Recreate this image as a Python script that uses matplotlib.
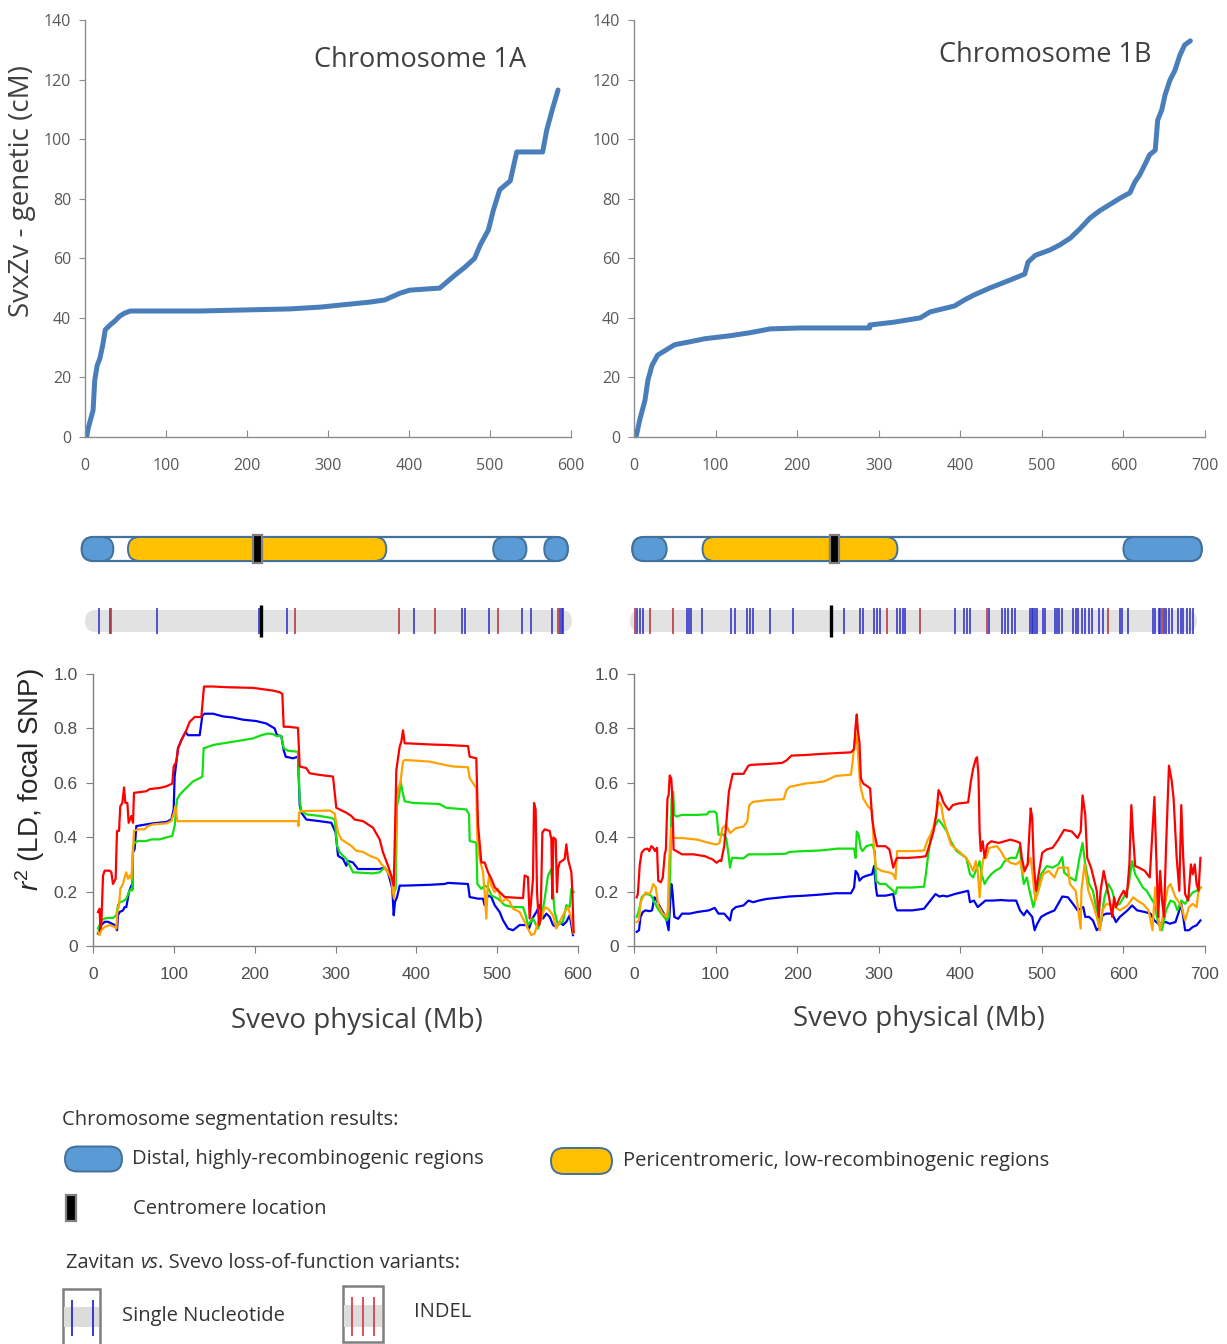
import numpy as np
import matplotlib
matplotlib.use('Agg')
import matplotlib.pyplot as plt
from matplotlib.patches import FancyBboxPatch, Rectangle

plt.rcParams['mathtext.fontset'] = 'custom'
plt.rcParams['mathtext.rm'] = 'Liberation Sans'
plt.rcParams['mathtext.it'] = 'Liberation Sans:italic'

W, H = 1227, 1344
XL_FONT = 'Open Sans'
R_FONT = 'Liberation Sans'
TXT = '#404040'

# ---- genetic vs physical map (Mb, cM) ----
map_1a_mb = [2, 4, 6, 10, 12, 15, 18.5, 22, 25, 31, 37, 43, 49, 56, 68, 142, 253, 290, 352, 370,
             389, 401, 438, 444, 457, 469, 481, 488, 498, 504, 512, 525, 533, 565, 570, 577, 584]
map_1a_cm = [0, 3, 5, 9, 19, 24, 26.5, 31, 36, 37.6, 39, 40.6, 41.6, 42.3, 42.3, 42.3, 43, 43.6, 45.3, 46,
             48.3, 49.3, 50, 51.4, 54.4, 57, 60, 64.5, 69.5, 76, 83, 86, 95.7, 95.7, 103, 110, 116.5]

map_1b_mb = [2.5, 7, 13.5, 17, 22, 29, 38, 50, 69, 87, 118, 142, 167, 203, 289, 289, 320, 351, 363, 393,
             405, 417, 436, 461, 479, 483, 492, 510, 522, 535, 547, 559, 571, 583, 596, 608, 614, 620, 626,
             632, 639, 642, 647, 651, 657, 663, 669, 675, 682]
map_1b_cm = [0, 5.7, 12.4, 19, 24, 27.5, 29, 31, 32, 33, 34, 35, 36.3, 36.6, 36.6, 37.6, 38.6, 40, 42, 44,
             46, 47.7, 50, 52.7, 54.7, 58.7, 61, 62.8, 64.5, 66.8, 70, 73.5, 76, 78, 80.2, 82, 85.6, 88, 91.3,
             94.7, 96.3, 106.4, 109.8, 114.8, 119.8, 123, 128, 131.6, 133]

# ---- chromosome segmentation (Mb) ----
chr1a_span = (-4, 596)
chr1a_distal = [(-4, 35), (504, 545), (567, 596)]
chr1a_pericen = (53, 372)
chr1a_cen = (207, 218)

chr1b_span = (-2, 696)
chr1b_distal = [(-2, 40), (600, 696)]
chr1b_pericen = (84, 323)
chr1b_cen = (240, 251)

# ---- loss-of-function variants (Mb) ----
lof_1a_span = (0, 601)
lof_1a_snp = [17.7, 31, 88.5, 215, 249, 406, 465, 469, 499, 540, 550, 577, 586, 589, 590]
lof_1a_indel = [31.7, 259, 388, 432, 510, 584]
lof_1a_cen = 217

lof_1b_span = (-5, 690)
lof_1b_snp = [4.1, 7.4, 11.1, 65.4, 67.7, 70.1, 83.3, 118.6, 124.3, 138.4, 141.7, 145.5, 166.7, 195,
              257.7, 277.5, 281.3, 294, 297.8, 301.1, 322.3, 325.6, 329.4, 332.7, 394, 404.8, 408.6,
              411.9, 435.5, 451, 454.4, 459.1, 462.9, 467.6, 485, 487.4, 489.7, 492.1, 494.5, 501.5,
              503.9, 515.7, 518, 521.3, 525.1, 538.3, 541.6, 544.9, 548.7, 553.4, 557.2, 561.9, 569.9,
              574.6, 595.9, 598.2, 606.2, 635.9, 639.2, 643, 645.3, 650, 652.4, 656.2, 659.5, 666.6,
              670.3, 673.6, 678.4, 681.7, 685.4]
lof_1b_indel = [1.7, 19.6, 47.9, 309.6, 350.6, 433.1, 580.8, 646.7]
lof_1b_cen = 241.2

# ---- LD (r2) with focal SNP, chromosome 1A ----
ld1a_red_mb = [6.2, 8.2, 9.1, 10.3, 12.4, 14.4, 20.6, 22.7, 24.7, 28, 29.7, 32.2, 33.8, 36.3, 38.4, 40, 42.5,
               44.1, 47.4, 49.5, 50.7, 66, 70.1, 82.5, 90.7, 98.1, 99.8, 103.1, 105.2, 109.3, 114.6, 119.6,
               125.8, 134, 137.3, 148.5, 169, 198, 222.7, 230.9, 234.2, 235.9, 241.2, 253.6, 255.7, 263.9,
               268, 280.4, 296.9, 301, 305.2, 313.4, 319.6, 323.7, 334, 340.2, 346.4, 354.6, 358.8, 365,
               369, 372, 373.2, 375.3, 379.4, 381.4, 383.5, 385.6, 389.7, 416.5, 437.1, 463.9, 466, 474.2,
               476.3, 480.4, 484.5, 488.7, 492.8, 496.9, 503.1, 509.3, 532, 534, 538.1, 540.2, 544.3, 545.6,
               547.6, 549.3, 551.8, 553.8, 555.9, 558.8, 565, 567, 568.2, 569.5, 572.4, 574, 575.3, 577.3,
               583.5, 585.6, 587.6, 591.8, 593, 594.6]
ld1a_red_r = [0.125, 0.137, 0.064, 0.077, 0.259, 0.277, 0.277, 0.271, 0.228, 0.247, 0.423, 0.423, 0.514,
              0.526, 0.583, 0.526, 0.526, 0.453, 0.478, 0.453, 0.563, 0.569, 0.577, 0.581, 0.587, 0.597,
              0.66, 0.678, 0.727, 0.757, 0.787, 0.824, 0.842, 0.842, 0.954, 0.954, 0.951, 0.949, 0.939,
              0.933, 0.927, 0.806, 0.806, 0.802, 0.66, 0.654, 0.635, 0.629, 0.623, 0.508, 0.502, 0.49,
              0.478, 0.465, 0.459, 0.447, 0.435, 0.392, 0.344, 0.295, 0.259, 0.222, 0.368, 0.648, 0.733,
              0.751, 0.793, 0.745, 0.745, 0.741, 0.739, 0.735, 0.696, 0.69, 0.447, 0.307, 0.307, 0.271,
              0.247, 0.216, 0.198, 0.18, 0.176, 0.259, 0.253, 0.101, 0.247, 0.526, 0.502, 0.198, 0.077,
              0.101, 0.417, 0.429, 0.423, 0.392, 0.174, 0.399, 0.392, 0.198, 0.283, 0.307, 0.32, 0.374,
              0.32, 0.271, 0.198, 0.052]

ld1a_blue_mb = [6.2, 8.2, 10.3, 14.4, 18.6, 22.7, 26.8, 29.7, 30.9, 33, 37.1, 39.2, 41.2, 44.5, 47.4, 48.7,
                49.5, 51.5, 53.6, 66, 74.2, 90.7, 96.9, 99.8, 101, 105.2, 109.3, 114.6, 117.5, 132, 135.3,
                138.1, 148.5, 160.8, 173.2, 185.6, 202.1, 214.4, 224.7, 227.6, 233, 235.9, 238.4, 247.4,
                253.6, 255.7, 257.7, 263.9, 280.4, 294.8, 300.2, 303.1, 309.3, 313.4, 315.5, 321.6, 327.8,
                354.6, 360.8, 364.9, 370.3, 372, 373.6, 376.1, 379.4, 385.6, 416.5, 435, 439.2, 463.9, 466,
                476.3, 482.5, 484.5, 488.7, 492.8, 496.9, 503.1, 507.2, 513.4, 519.6, 527.8, 536.1, 539.4,
                543.5, 548.5, 552.6, 556.7, 560.8, 565, 569.1, 573.2, 577.3, 581.4, 585.6, 589.7, 591.8,
                593.8]
ld1a_blue_r = [0.046, 0.058, 0.077, 0.089, 0.089, 0.083, 0.077, 0.058, 0.113, 0.125, 0.131, 0.143, 0.143,
               0.198, 0.222, 0.21, 0.344, 0.356, 0.441, 0.447, 0.451, 0.456, 0.465, 0.502, 0.623, 0.727,
               0.757, 0.787, 0.775, 0.775, 0.848, 0.854, 0.854, 0.844, 0.84, 0.832, 0.827, 0.818, 0.8,
               0.775, 0.772, 0.72, 0.696, 0.69, 0.696, 0.52, 0.49, 0.465, 0.459, 0.453, 0.417, 0.332, 0.32,
               0.295, 0.313, 0.307, 0.283, 0.283, 0.289, 0.271, 0.21, 0.113, 0.162, 0.18, 0.222, 0.222,
               0.225, 0.228, 0.232, 0.228, 0.18, 0.174, 0.174, 0.15, 0.186, 0.18, 0.15, 0.125, 0.095, 0.064,
               0.058, 0.077, 0.077, 0.064, 0.101, 0.125, 0.15, 0.101, 0.119, 0.107, 0.077, 0.07, 0.089,
               0.077, 0.089, 0.113, 0.077, 0.04]

ld1a_green_mb = [6.2, 8.2, 10.3, 14.4, 18.6, 24.7, 28.9, 30.9, 33, 37.1, 41.2, 44.5, 47.4, 48.7, 49.5, 51.5,
                 55.7, 66, 72.2, 82.5, 90.7, 98.1, 101, 103.9, 107.2, 113.4, 117.5, 123.7, 132, 135.3,
                 136.9, 140.2, 148.5, 160.8, 177.3, 189.7, 197.9, 208.2, 216.5, 222.7, 226.8, 233, 235.9,
                 241.2, 253.6, 255.7, 257.7, 263.9, 280.4, 294.8, 299, 301.9, 305.2, 313.4, 321.6, 346.4,
                 354.6, 360.8, 364.9, 369.1, 372, 374.4, 376.1, 378.6, 380.6, 382.7, 385.6, 395.9, 428.9,
                 437.1, 461.9, 465.2, 466, 474.2, 475.5, 480.4, 484.5, 488.7, 492.8, 501, 509.3, 519.6, 532,
                 535.3, 538.1, 544.3, 550.5, 554.6, 558.8, 562.9, 567, 569.1, 571.1, 575.3, 581.4, 585.6,
                 589.7, 591.8, 594.6]
ld1a_green_r = [0.064, 0.077, 0.095, 0.101, 0.103, 0.103, 0.113, 0.15, 0.162, 0.164, 0.174, 0.198, 0.21,
                0.204, 0.368, 0.38, 0.386, 0.386, 0.392, 0.392, 0.399, 0.405, 0.441, 0.538, 0.556, 0.575,
                0.587, 0.605, 0.617, 0.623, 0.727, 0.73, 0.739, 0.745, 0.753, 0.759, 0.763, 0.775, 0.781,
                0.779, 0.772, 0.772, 0.727, 0.718, 0.714, 0.538, 0.496, 0.484, 0.478, 0.471, 0.465, 0.368,
                0.344, 0.32, 0.271, 0.267, 0.271, 0.289, 0.271, 0.247, 0.198, 0.21, 0.514, 0.55, 0.605,
                0.569, 0.532, 0.526, 0.522, 0.508, 0.502, 0.484, 0.386, 0.38, 0.228, 0.21, 0.222, 0.216,
                0.186, 0.174, 0.15, 0.143, 0.143, 0.113, 0.077, 0.101, 0.064, 0.101, 0.174, 0.259, 0.283,
                0.198, 0.125, 0.077, 0.089, 0.15, 0.143, 0.21, 0.198]

ld1a_orange_mb = [6.2, 8.2, 10.3, 14.4, 20.6, 26.8, 28.9, 30.1, 32.2, 33.8, 37.1, 39.2, 41.2, 43.3, 45.4,
                  47.4, 49.5, 50.7, 55.7, 63.9, 68, 74.2, 90.7, 96.9, 100.2, 101.9, 103.1, 104.3, 253.6,
                  254.4, 254.8, 257.7, 292.8, 299, 300.2, 303.1, 307.2, 313.4, 319.6, 325.8, 334, 342.3,
                  352.6, 356.7, 360.8, 364.9, 369.1, 371.1, 372.4, 373.6, 375.3, 377.3, 380.2, 383.5, 385.6,
                  416.5, 435, 445.4, 463.9, 466, 474.2, 475.5, 478.4, 482.5, 484.5, 486.6, 487.8, 489.9,
                  492.8, 496.9, 501, 505.2, 511.3, 515.5, 519.6, 527.8, 534, 538.1, 542.3, 546.4, 550.5,
                  554.6, 558.8, 562.9, 569.1, 573.2, 577.3, 583.5, 587.6, 591.8, 594.6]
ld1a_orange_r = [0.052, 0.04, 0.058, 0.07, 0.077, 0.07, 0.064, 0.125, 0.15, 0.21, 0.228, 0.253, 0.271,
                 0.247, 0.259, 0.247, 0.35, 0.423, 0.429, 0.429, 0.441, 0.447, 0.451, 0.459, 0.49, 0.514,
                 0.49, 0.459, 0.459, 0.441, 0.49, 0.496, 0.498, 0.487, 0.465, 0.417, 0.392, 0.38, 0.368,
                 0.35, 0.346, 0.332, 0.32, 0.301, 0.289, 0.271, 0.247, 0.198, 0.174, 0.259, 0.526, 0.575,
                 0.599, 0.678, 0.684, 0.678, 0.666, 0.66, 0.657, 0.617, 0.581, 0.392, 0.32, 0.271, 0.198,
                 0.101, 0.198, 0.259, 0.222, 0.198, 0.21, 0.162, 0.174, 0.162, 0.137, 0.125, 0.089, 0.064,
                 0.04, 0.046, 0.089, 0.101, 0.143, 0.137, 0.113, 0.064, 0.089, 0.125, 0.143, 0.101, 0.046]

# ---- LD (r2) with focal SNP, chromosome 1B ----
ld1b_red_mb = [3.3, 4.7, 7.1, 9.4, 12.7, 16.5, 18.8, 21.2, 23.5, 25.9, 28.2, 29.7, 33, 35.3, 37.7, 39.1, 41,
               42.4, 43.8, 45.7, 47.1, 48.5, 51.8, 58.9, 73, 87.1, 96.5, 101.2, 105, 106.9, 110.6, 113,
               116.3, 121, 134.2, 140.3, 143.6, 162.4, 181.3, 186.9, 193, 209.5, 228.3, 247.2, 266, 269.8,
               271.7, 273.1, 274.5, 276.4, 278.2, 281.1, 287.2, 289.5, 291.9, 294.3, 298, 308.4, 313.1,
               317.8, 320.6, 322.5, 336.6, 350.8, 357.8, 362.5, 367.2, 370.5, 373.4, 376.6, 379, 382.8,
               386.1, 390.8, 397.8, 409.6, 412.9, 415.7, 419, 420.5, 422.3, 423.7, 425.1, 427.5, 429.8,
               433.1, 437.9, 447.3, 454.3, 461.4, 468.5, 473.2, 475.5, 478.8, 482.6, 486.3, 488.2, 490.1,
               492.9, 496.7, 500.5, 506.1, 513.2, 520.2, 527.3, 536.7, 543.8, 547.6, 549.9, 553.2, 555.6,
               560.3, 567.3, 569.7, 572, 575.8, 579.1, 582.4, 586.2, 588.5, 590.9, 595.6, 600.3, 604, 607.3,
               609.7, 612, 614.4, 619.1, 626.2, 632.3, 635.6, 638, 640.3, 642.7, 645, 647.4, 649.7, 652.1,
               655.8, 659.1, 661.5, 665.3, 668.5, 670.9, 673.3, 675.6, 679.4, 682.7, 685, 687.4, 689.7,
               692.1, 694.4]
ld1b_red_r = [0.179, 0.191, 0.3, 0.343, 0.355, 0.358, 0.349, 0.367, 0.361, 0.349, 0.361, 0.24, 0.234, 0.252,
              0.337, 0.355, 0.542, 0.554, 0.627, 0.615, 0.542, 0.355, 0.349, 0.337, 0.337, 0.33, 0.318,
              0.306, 0.315, 0.312, 0.367, 0.446, 0.567, 0.633, 0.633, 0.663, 0.666, 0.669, 0.673, 0.682,
              0.7, 0.702, 0.706, 0.709, 0.712, 0.724, 0.809, 0.851, 0.791, 0.748, 0.615, 0.597, 0.585,
              0.579, 0.47, 0.421, 0.367, 0.367, 0.355, 0.288, 0.312, 0.324, 0.324, 0.327, 0.33, 0.373,
              0.421, 0.482, 0.573, 0.554, 0.53, 0.512, 0.5, 0.518, 0.524, 0.528, 0.603, 0.651, 0.688,
              0.694, 0.627, 0.421, 0.349, 0.385, 0.324, 0.373, 0.385, 0.379, 0.385, 0.391, 0.385, 0.379,
              0.324, 0.276, 0.3, 0.506, 0.47, 0.3, 0.203, 0.276, 0.343, 0.355, 0.361, 0.391, 0.427, 0.421,
              0.397, 0.421, 0.554, 0.482, 0.324, 0.288, 0.203, 0.107, 0.203, 0.276, 0.228, 0.179, 0.107,
              0.179, 0.143, 0.179, 0.203, 0.179, 0.3, 0.518, 0.397, 0.294, 0.288, 0.276, 0.252, 0.421,
              0.548, 0.324, 0.107, 0.276, 0.167, 0.107, 0.349, 0.663, 0.609, 0.542, 0.324, 0.203, 0.518,
              0.324, 0.191, 0.167, 0.3, 0.264, 0.3, 0.228, 0.203, 0.324]

ld1b_orange_mb = [3.3, 6.1, 8, 10.8, 14.1, 18.8, 21.2, 23.5, 26.8, 29.7, 35.3, 40, 41.4, 43.3, 45.7, 47.1,
                  49.4, 58.9, 77.7, 91.8, 101.2, 105, 108.3, 113, 117.7, 120.1, 124.8, 134.2, 138.9, 141.2,
                  146, 162.4, 183.6, 186.9, 190.7, 209.5, 218.9, 233.1, 247.2, 266, 268.4, 270.7, 272.6,
                  274.5, 277.3, 281.1, 287.2, 291.9, 294.3, 296.6, 303.7, 313.1, 317.8, 320.6, 322.5, 341.3,
                  355.5, 360.2, 365.8, 370.5, 373.4, 376.6, 379, 383.7, 388.4, 397.8, 407.3, 411.9, 415.7,
                  419, 421.4, 423.7, 426.1, 428.4, 431.7, 435.5, 444.9, 449.6, 454.3, 461.4, 468.5, 473.2,
                  476.9, 480.2, 486.3, 488.2, 492, 495.8, 501.4, 508.5, 515.5, 520.2, 532, 534.4, 541.4,
                  547.6, 548.5, 552.3, 557, 562.6, 567.3, 571.1, 574.4, 579.1, 586.2, 595.6, 605, 612, 616.8,
                  623.8, 630.9, 635.6, 638.9, 641.7, 645, 649.7, 654.4, 657.7, 663.8, 670.9, 675.6, 680.3,
                  685, 689.7, 692.1, 694.4]
ld1b_orange_r = [0.088, 0.094, 0.161, 0.179, 0.197, 0.191, 0.203, 0.228, 0.215, 0.149, 0.119, 0.107, 0.131,
                 0.324, 0.433, 0.397, 0.397, 0.397, 0.391, 0.379, 0.373, 0.379, 0.433, 0.446, 0.415, 0.421,
                 0.433, 0.439, 0.458, 0.518, 0.53, 0.536, 0.54, 0.573, 0.585, 0.597, 0.6, 0.605, 0.625, 0.63,
                 0.688, 0.76, 0.778, 0.712, 0.591, 0.542, 0.512, 0.5, 0.349, 0.288, 0.276, 0.27, 0.264,
                 0.246, 0.349, 0.349, 0.351, 0.391, 0.421, 0.482, 0.53, 0.518, 0.47, 0.421, 0.373, 0.349,
                 0.324, 0.3, 0.276, 0.312, 0.276, 0.179, 0.276, 0.324, 0.324, 0.361, 0.367, 0.349, 0.324,
                 0.306, 0.3, 0.312, 0.264, 0.288, 0.324, 0.276, 0.167, 0.203, 0.264, 0.276, 0.252, 0.288,
                 0.288, 0.228, 0.203, 0.064, 0.203, 0.3, 0.203, 0.155, 0.107, 0.058, 0.131, 0.155, 0.149,
                 0.131, 0.149, 0.179, 0.167, 0.155, 0.131, 0.058, 0.215, 0.131, 0.058, 0.131, 0.215, 0.228,
                 0.179, 0.149, 0.094, 0.143, 0.155, 0.143, 0.203, 0.215]

ld1b_green_mb = [3.3, 6.1, 9.4, 12.7, 16.5, 21.2, 25.9, 30.6, 35.3, 40, 42.4, 44.7, 46.1, 48, 49.4, 51.8,
                 58.9, 77.7, 89.5, 91.8, 98.9, 101.2, 103.6, 108.3, 113, 115.3, 117.7, 120.1, 122.4, 134.2,
                 140.3, 162.4, 186, 190.7, 209.5, 228.3, 249.5, 269.8, 271.7, 273.1, 275.4, 277.8, 280.1,
                 284.8, 291.9, 295.2, 296.6, 301.3, 308.4, 313.1, 317.8, 320.6, 322.5, 341.3, 355.5, 357.8,
                 360.2, 364.9, 369.6, 373.4, 376.6, 383.7, 388.4, 395.5, 407.3, 411.9, 415.7, 419, 423.7,
                 426.1, 429.8, 433.1, 437.9, 442.6, 449.6, 454.3, 461.4, 468.5, 473.2, 475.5, 477.9, 481.6,
                 484.9, 489.6, 494.4, 499.1, 506.1, 513.2, 520.2, 525.1, 527.3, 534.4, 541.4, 546.1, 549.9,
                 553.2, 557.9, 562.6, 567.3, 572, 576.8, 581.5, 586.2, 590.9, 595.6, 600.3, 605.9, 610.6,
                 614.4, 619.1, 623.8, 628.5, 633.2, 638, 642.7, 647.4, 652.1, 657.7, 662.4, 666.2, 670.9,
                 675.6, 680.3, 685, 689.7, 695]
ld1b_green_r = [0.107, 0.131, 0.179, 0.189, 0.191, 0.185, 0.155, 0.131, 0.113, 0.094, 0.107, 0.324, 0.542,
                0.567, 0.482, 0.476, 0.482, 0.482, 0.484, 0.494, 0.494, 0.488, 0.409, 0.412, 0.397, 0.349,
                0.288, 0.324, 0.324, 0.322, 0.337, 0.337, 0.339, 0.346, 0.349, 0.351, 0.358, 0.358, 0.324,
                0.421, 0.409, 0.361, 0.349, 0.367, 0.373, 0.349, 0.24, 0.228, 0.228, 0.215, 0.203, 0.191,
                0.215, 0.215, 0.218, 0.264, 0.324, 0.421, 0.446, 0.464, 0.452, 0.421, 0.385, 0.349, 0.324,
                0.264, 0.252, 0.276, 0.312, 0.264, 0.228, 0.246, 0.264, 0.276, 0.288, 0.312, 0.324, 0.324,
                0.367, 0.276, 0.228, 0.252, 0.203, 0.143, 0.203, 0.264, 0.294, 0.288, 0.3, 0.327, 0.27,
                0.252, 0.24, 0.324, 0.379, 0.3, 0.228, 0.203, 0.131, 0.082, 0.179, 0.228, 0.203, 0.149,
                0.155, 0.179, 0.215, 0.312, 0.264, 0.24, 0.215, 0.203, 0.179, 0.155, 0.082, 0.058, 0.131,
                0.167, 0.161, 0.131, 0.167, 0.155, 0.179, 0.197, 0.203, 0.215]

ld1b_blue_mb = [3.3, 6.1, 8, 10.8, 14.1, 18.8, 22.1, 25, 26.8, 29.7, 33, 37.7, 40, 42.4, 43.8, 45.7, 47.1,
                49.4, 54.1, 58.9, 68.3, 77.7, 91.8, 98.9, 103.6, 110.6, 117.7, 120.1, 124.8, 134.2, 140.3,
                146, 153, 162.4, 181.3, 190.7, 209.5, 228.3, 247.2, 266, 269.8, 271.7, 274.5, 276.4, 280.1,
                284.8, 291.9, 294.3, 296.6, 298, 308.4, 317.8, 320.6, 322.5, 341.3, 355.5, 360.2, 369.6,
                374.3, 379, 383.7, 393.1, 409.6, 411.9, 416.7, 421.4, 426.1, 430.8, 440.2, 449.6, 459,
                468.5, 473.2, 477.9, 481.6, 484.9, 488.2, 491.1, 494.4, 499.1, 506.1, 515.5, 525.1, 532,
                538.1, 543.8, 550.8, 553.2, 557.9, 562.6, 567.3, 571.1, 574.4, 579.1, 586.2, 590.9, 595.6,
                600.3, 605, 610.6, 616.8, 626.2, 633.2, 638, 642.7, 647.4, 652.1, 656.8, 663.8, 668.5,
                670.9, 673.3, 675.6, 680.3, 685, 689.7, 694.4]
ld1b_blue_r = [0.052, 0.058, 0.107, 0.125, 0.131, 0.128, 0.131, 0.179, 0.173, 0.155, 0.137, 0.113, 0.094,
               0.058, 0.131, 0.228, 0.203, 0.107, 0.1, 0.119, 0.119, 0.125, 0.131, 0.14, 0.119, 0.119, 0.094,
               0.131, 0.143, 0.149, 0.167, 0.161, 0.167, 0.173, 0.179, 0.182, 0.185, 0.189, 0.194, 0.194,
               0.215, 0.276, 0.264, 0.24, 0.252, 0.258, 0.264, 0.294, 0.215, 0.185, 0.185, 0.191, 0.143,
               0.131, 0.131, 0.137, 0.155, 0.191, 0.182, 0.185, 0.182, 0.191, 0.203, 0.161, 0.167, 0.143,
               0.155, 0.167, 0.167, 0.169, 0.167, 0.167, 0.131, 0.113, 0.131, 0.119, 0.107, 0.058, 0.082,
               0.107, 0.119, 0.131, 0.182, 0.179, 0.155, 0.131, 0.143, 0.107, 0.107, 0.094, 0.058, 0.07,
               0.113, 0.119, 0.119, 0.088, 0.107, 0.119, 0.131, 0.149, 0.131, 0.125, 0.119, 0.094, 0.082,
               0.085, 0.088, 0.082, 0.088, 0.131, 0.155, 0.107, 0.058, 0.058, 0.07, 0.076, 0.094]

LD_COLORS = {'blue': '#0000f0', 'green': '#10e010', 'orange': '#ffa200', 'red': '#ff0000'}

fig = plt.figure(figsize=(W / 100, H / 100), dpi=100)
fig.patch.set_facecolor('white')


def px_axes(x0, y0, x1, y1):
    # place an axes by its pixel box (y measured from the top)
    return fig.add_axes([x0 / W, 1 - y1 / H, (x1 - x0) / W, (y1 - y0) / H])


def map_panel(x0, x1, xmax, mb, cm, title, title_xy):
    ax = px_axes(x0, 20, x1, 437)
    ax.plot(mb, cm, color='#4a7ebb', lw=3.6, solid_capstyle='round', solid_joinstyle='round')
    ax.set_xlim(0, xmax)
    ax.set_ylim(0, 140)
    ax.set_xticks(range(0, xmax + 1, 100))
    ax.set_yticks(range(0, 141, 20))
    for s in ['top', 'right']:
        ax.spines[s].set_visible(False)
    for s in ['left', 'bottom']:
        ax.spines[s].set_color('#8c8c8c')
        ax.spines[s].set_linewidth(1.0)
    ax.tick_params(axis='x', direction='in', length=5, pad=15, color='#8c8c8c')
    ax.tick_params(axis='y', direction='out', length=4, pad=6, color='#8c8c8c')
    for lab in ax.get_xticklabels() + ax.get_yticklabels():
        lab.set_fontfamily(XL_FONT)
        lab.set_fontsize(11.5)
        lab.set_color('#595959')
    fig.text(title_xy[0] / W, 1 - title_xy[1] / H, title, ha='center', va='center',
             fontsize=19.5, family=XL_FONT, color=TXT)
    return ax


def ld_panel(x0, x1, xmax, series):
    ax = px_axes(x0, 674, x1, 946)
    for name in ['blue', 'green', 'orange', 'red']:
        mb, r = series[name]
        ax.plot(mb, r, color=LD_COLORS[name], lw=1.6)
    ax.set_xlim(0, xmax)
    ax.set_ylim(0, 1.0)
    ax.set_xticks(range(0, xmax + 1, 100))
    ax.set_yticks([0, 0.2, 0.4, 0.6, 0.8, 1.0])
    ax.set_yticklabels(['0', '0.2', '0.4', '0.6', '0.8', '1.0'])
    for s in ['top', 'right']:
        ax.spines[s].set_visible(False)
    for s in ['left', 'bottom']:
        ax.spines[s].set_color('#7f7f7f')
        ax.spines[s].set_linewidth(1.0)
    ax.tick_params(direction='out', length=5, color='#7f7f7f')
    ax.tick_params(axis='x', pad=10)
    ax.tick_params(axis='y', pad=6)
    for lab in ax.get_xticklabels() + ax.get_yticklabels():
        lab.set_fontfamily(R_FONT)
        lab.set_fontsize(12.5)
        lab.set_color('#4d4d4d')
    return ax


def rounded(ax, x0, x1, yc, h, fc, ec, lw, z=2):
    w = x1 - x0
    rs = min(w, h) / 2
    p = FancyBboxPatch((x0, yc - h / 2), w, h, boxstyle='round,pad=0,rounding_size=%f' % rs,
                       fc=fc, ec=ec, lw=lw, zorder=z, clip_on=False, mutation_aspect=1)
    ax.add_patch(p)


def chrom_panel(x0, x1, xmax, span, distal, pericen, cen, lspan, snp, indel, lcen):
    ax = px_axes(x0, 525, x1, 645)
    ppm = (x1 - x0) / xmax
    ax.set_xlim(0, xmax)
    ax.set_ylim(0, 120 / ppm)
    ax.axis('off')

    def u(px):
        return px / ppm

    yc, h = u(96), u(24)
    edge = '#41719c'
    rounded(ax, span[0], span[1], yc, h, 'white', edge, 1.6, 2)
    for a, b in distal:
        rounded(ax, a, b, yc, h, '#5b9bd5', edge, 1.4, 3)
    rounded(ax, pericen[0], pericen[1], yc, h, '#ffc000', edge, 1.4, 3)
    ax.add_patch(Rectangle((cen[0], yc - u(14)), cen[1] - cen[0], u(28), fc='black', ec='#808080',
                           lw=1.6, zorder=4, clip_on=False))

    yt = u(24)
    rounded(ax, lspan[0], lspan[1], yt, u(22), '#e2e2e2', 'none', 0, 2)
    ax.vlines(snp, yt - u(13), yt + u(13), color='#2a2ac8', lw=1.3, alpha=0.85, zorder=3)
    ax.vlines(indel, yt - u(13), yt + u(13), color='#b8383a', lw=1.3, alpha=0.9, zorder=3)
    ax.vlines([lcen], yt - u(16), yt + u(16), color='black', lw=2.4, zorder=4)
    return ax


map_panel(85, 571, 600, map_1a_mb, map_1a_cm, 'Chromosome 1A', (420, 60))
map_panel(634, 1205, 700, map_1b_mb, map_1b_cm, 'Chromosome 1B', (1045, 55))

chrom_panel(85, 571, 600, chr1a_span, chr1a_distal, chr1a_pericen, chr1a_cen,
            lof_1a_span, lof_1a_snp, lof_1a_indel, lof_1a_cen)
chrom_panel(634, 1205, 700, chr1b_span, chr1b_distal, chr1b_pericen, chr1b_cen,
            lof_1b_span, lof_1b_snp, lof_1b_indel, lof_1b_cen)

ld_panel(93, 578, 600, {'red': (ld1a_red_mb, ld1a_red_r), 'blue': (ld1a_blue_mb, ld1a_blue_r),
                        'green': (ld1a_green_mb, ld1a_green_r), 'orange': (ld1a_orange_mb, ld1a_orange_r)})
ld_panel(634, 1205, 700, {'red': (ld1b_red_mb, ld1b_red_r), 'blue': (ld1b_blue_mb, ld1b_blue_r),
                          'green': (ld1b_green_mb, ld1b_green_r), 'orange': (ld1b_orange_mb, ld1b_orange_r)})

# axis titles
fig.text(22 / W, 1 - 191 / H, 'SvxZv - genetic (cM)', rotation=90, ha='center', va='center',
         fontsize=20, family=XL_FONT, color=TXT)
fig.text(30 / W, 1 - 780 / H, r'$\mathit{r}^2$ (LD, focal SNP)', rotation=90, ha='center', va='center',
         fontsize=20, family=R_FONT, color='#262626')
fig.text(357 / W, 1 - 1021 / H, 'Svevo physical (Mb)', ha='center', va='center',
         fontsize=20, family=XL_FONT, color=TXT)
fig.text(919 / W, 1 - 1019 / H, 'Svevo physical (Mb)', ha='center', va='center',
         fontsize=20, family=XL_FONT, color=TXT)

# legend drawn in pixel coordinates
lg = fig.add_axes([0, 0, 1, 1], zorder=-1)
lg.set_xlim(0, W)
lg.set_ylim(H, 0)
lg.axis('off')
LG = dict(fontsize=14.5, family=XL_FONT, color='#333333', va='center')

lg.text(62, 1120, 'Chromosome segmentation results:', **LG)
rounded(lg, 65, 122, 1159, 25, '#5b9bd5', '#41719c', 1.4)
lg.text(132, 1159, 'Distal, highly-recombinogenic regions', **LG)
rounded(lg, 551, 612, 1161, 26, '#ffc000', '#41719c', 1.4)
lg.text(623, 1161, 'Pericentromeric, low-recombinogenic regions', **LG)
lg.add_patch(Rectangle((66, 1195), 10, 26, fc='black', ec='#808080', lw=1.6))
lg.text(133, 1209, 'Centromere location', **LG)

renderer = fig.canvas.get_renderer()
x = 66
for part, style in [('Zavitan ', 'normal'), ('vs', 'italic'), ('. Svevo loss-of-function variants:', 'normal')]:
    t = lg.text(x, 1263, part, style=style, **LG)
    x += t.get_window_extent(renderer=renderer).width

# variant key boxes
lg.add_patch(Rectangle((63, 1289), 37, 70, fc='white', ec='#7f7f7f', lw=1.8, clip_on=False))
lg.add_patch(Rectangle((64, 1307), 35, 20, fc='#dcdcdc', ec='none'))
lg.vlines([72, 93], 1300, 1336, color='#2a2ad4', lw=1.3)
lg.text(122, 1316, 'Single Nucleotide', **LG)

lg.add_patch(Rectangle((343, 1286), 40, 56, fc='white', ec='#7f7f7f', lw=1.8))
lg.add_patch(Rectangle((344, 1305), 38, 22, fc='#dcdcdc', ec='none'))
lg.vlines([352, 363, 374], 1297, 1336, color='#d9434a', lw=1.3)
lg.text(414, 1312, 'INDEL', **LG)

fig.savefig('out.png', dpi=100, facecolor='white')
